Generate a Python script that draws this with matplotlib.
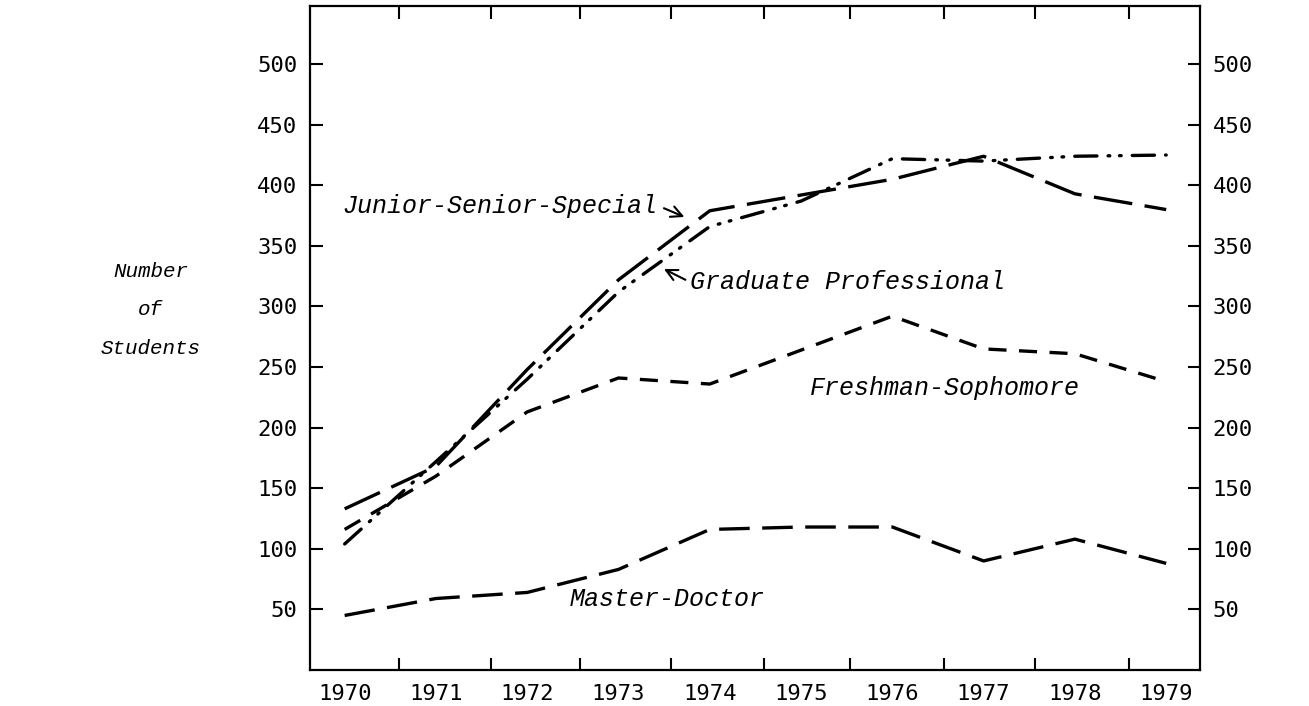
import matplotlib.pyplot as plt
from matplotlib.ticker import FixedLocator, NullFormatter

# data (number of students per year)
years = [1970, 1971, 1972, 1973, 1974, 1975, 1976, 1977, 1978, 1979]
junior_senior = [133, 168, 248, 322, 379, 392, 405, 424, 393, 380]
graduate_prof = [104, 172, 240, 312, 366, 387, 422, 420, 424, 425]
freshman_soph = [116, 160, 213, 241, 236, 264, 292, 265, 261, 238]
master_doctor = [45, 59, 64, 83, 116, 118, 118, 90, 108, 88]

year_labels = [str(y) for y in years]
# the typed chart has its tick marks between the year labels
between_ticks = [1970.59, 1971.60, 1972.58, 1973.57, 1974.59,
                 1975.54, 1976.57, 1977.56, 1978.59]
y_ticks = [50, 100, 150, 200, 250, 300, 350, 400, 450, 500]

plt.rcParams['lines.scale_dashes'] = False
label_font = ['Liberation Mono', 'DejaVu Sans Mono']
tick_font = 'DejaVu Sans Mono'

fig = plt.figure(figsize=(13.09, 7.06), dpi=100)
ax = fig.add_axes([0.2368, 0.051, 0.6799, 0.9405])

lw = 2.4
ax.plot(years, junior_senior, color='black', lw=lw, linestyle=(0, (28, 9)))
ax.plot(years, graduate_prof, color='black', lw=lw, dash_capstyle='round',
        linestyle=(0, (16, 8, 1.2, 7, 1.2, 8)))
ax.plot(years, freshman_soph, color='black', lw=lw, linestyle=(0, (13, 9)))
ax.plot(years, master_doctor, color='black', lw=lw, linestyle=(0, (22, 9)))

ax.set_xlim(1969.62, 1979.37)
ax.set_ylim(0, 548)

ax.set_xticks(years)
ax.set_xticklabels(year_labels, fontsize=16, family=tick_font)
ax.xaxis.set_minor_locator(FixedLocator(between_ticks))
ax.xaxis.set_minor_formatter(NullFormatter())
ax.tick_params(axis='x', which='major', length=0, pad=10)
ax.tick_params(axis='x', which='minor', direction='in', length=9, width=1.5,
               top=True, bottom=True)

ax.set_yticks(y_ticks)
ax.set_yticklabels([str(v) for v in y_ticks], fontsize=16, family=tick_font)
ax.tick_params(axis='y', direction='in', length=9, width=1.5, pad=9,
               left=True, right=True, labelleft=True, labelright=True)

for s in ax.spines.values():
    s.set_linewidth(1.6)

# series names typed on the chart
arrow = dict(arrowstyle='->', color='black', lw=1.5, mutation_scale=20)
ax.text(1969.97, 383, 'Junior-Senior-Special', fontsize=18, style='italic',
        family=label_font, ha='left', va='center')
ax.annotate('', xy=(1973.75, 373), xytext=(1973.47, 382), arrowprops=arrow)
ax.text(1973.78, 320, 'Graduate Professional', fontsize=18, style='italic',
        family=label_font, ha='left', va='center')
ax.annotate('', xy=(1973.47, 332), xytext=(1973.76, 321), arrowprops=arrow)
ax.text(1975.10, 233, 'Freshman-Sophomore', fontsize=18, style='italic',
        family=label_font, ha='left', va='center')
ax.text(1972.47, 59, 'Master-Doctor', fontsize=18, style='italic',
        family=label_font, ha='left', va='center')

# y axis title, three typed lines left of the axis
for txt, yy in [('Number', 0.615), ('of', 0.561), ('Students', 0.507)]:
    fig.text(0.115, yy, txt, fontsize=15, style='italic', family=label_font,
             ha='center', va='center')

fig.savefig('out.png', dpi=100)
